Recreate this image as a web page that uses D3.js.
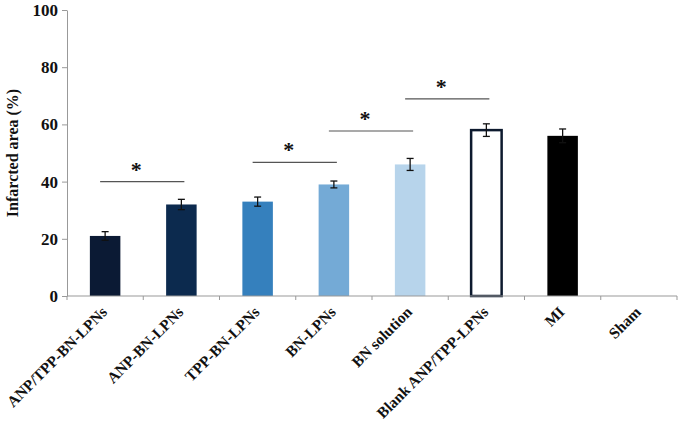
<!DOCTYPE html>
<html><head><meta charset="utf-8">
<script src="https://cdn.jsdelivr.net/npm/d3@7"></script>
<style>body{margin:0;background:#fff}svg{display:block}text{font-family:"Liberation Serif","Times New Roman",serif;font-weight:bold}</style>
</head><body>
<script>
const categories = ["ANP/TPP-BN-LPNs","ANP-BN-LPNs","TPP-BN-LPNs","BN-LPNs","BN solution","Blank ANP/TPP-LPNs","MI","Sham"];
const values = [21, 32, 33, 39, 46, 58, 56, 0];
const errors = [1.5, 1.8, 1.6, 1.2, 2.1, 2.2, 2.4, 0];
const colors = ["#0b1a34","#0c2a4e","#3580bd","#74aad6","#b7d4eb","#ffffff","#000000","#ffffff"];
const yTicks = [0,20,40,60,80,100];
// significance brackets: [from index, to index, y value]
const sigFrom = [0, 2, 3, 4];
const sigTo = [1, 3, 4, 5];
const sigY = [40, 46.7, 57.7, 68.9];

const W = 683, H = 434;
const m = {l:67, r:6, t:10, b:138};
const svg = d3.select("body").append("svg").attr("width",W).attr("height",H);
const x = d3.scaleBand().domain(categories).range([m.l, W-m.r]).paddingInner(0.6).paddingOuter(0.3);
const y = d3.scaleLinear().domain([0,100]).range([H-m.b, m.t]);
const cx = c => x(c) + x.bandwidth()/2;

// axes
const gy = svg.append("g").attr("transform",`translate(${m.l},0)`)
  .call(d3.axisLeft(y).tickValues(yTicks).tickSize(5).tickSizeOuter(0));
gy.attr("font-family",null);
gy.select(".domain").attr("stroke","#999");
gy.selectAll(".tick line").attr("stroke","#999");
gy.selectAll(".tick text").attr("font-size",17).attr("fill","#111").attr("x",-9);

// bars
svg.append("g").selectAll("rect").data(categories).join("rect")
  .attr("x", d=>x(d)).attr("width", x.bandwidth())
  .attr("y", (d,i)=>y(values[i])).attr("height",(d,i)=>y(0)-y(values[i]))
  .attr("fill",(d,i)=>colors[i])
  .attr("stroke",(d,i)=> i===5 ? "#0d1a2e" : "none")
  .attr("stroke-width",2.5)
  .filter((d,i)=>values[i]===0).remove();

// x axis
const gx = svg.append("g").attr("transform",`translate(0,${y(0)})`);
gx.append("line").attr("x1",m.l).attr("x2",W-m.r).attr("stroke","#999");
gx.selectAll(".tk").data(d3.range(categories.length+1)).join("line")
  .attr("x1",i=>m.l+i*(W-m.r-m.l)/categories.length).attr("x2",i=>m.l+i*(W-m.r-m.l)/categories.length)
  .attr("y1",0).attr("y2",4).attr("stroke","#999");
svg.append("g").selectAll("text").data(categories).join("text")
  .attr("transform", d=>`translate(${cx(d)+3},${y(0)+17}) rotate(-45)`)
  .attr("text-anchor","end")
  .attr("font-size",15.5).attr("fill","#111")
  .text(d=>d);

// error bars
const eg = svg.append("g").attr("stroke","#111").attr("stroke-width",1.3);
categories.forEach((c,i)=>{
  if(errors[i]===0) return;
  const X = cx(c);
  eg.append("line").attr("x1",X).attr("x2",X).attr("y1",y(values[i]-errors[i])).attr("y2",y(values[i]+errors[i]));
  eg.append("line").attr("x1",X-3.5).attr("x2",X+3.5).attr("y1",y(values[i]+errors[i])).attr("y2",y(values[i]+errors[i]));
  eg.append("line").attr("x1",X-3.5).attr("x2",X+3.5).attr("y1",y(values[i]-errors[i])).attr("y2",y(values[i]-errors[i]));
});

// significance
const sg = svg.append("g");
sigFrom.forEach((f,k)=>{
  const x1 = cx(categories[f])-5, x2 = cx(categories[sigTo[k]])+3;
  sg.append("line").attr("x1",x1).attr("x2",x2).attr("y1",y(sigY[k])).attr("y2",y(sigY[k]))
    .attr("stroke","#555").attr("stroke-width",1.2);
  sg.append("text").attr("x",(x1+x2)/2-6).attr("y",y(sigY[k])-5)
    .attr("text-anchor","middle")
    .attr("font-size",22).attr("fill","#111").text("*");
});

// y label
svg.append("text").attr("transform",`translate(18,${(y(0)+y(100))/2}) rotate(-90)`)
  .attr("text-anchor","middle")
  .attr("font-size",16).attr("fill","#111").text("Infarcted area (%)");
</script>
</body></html>
